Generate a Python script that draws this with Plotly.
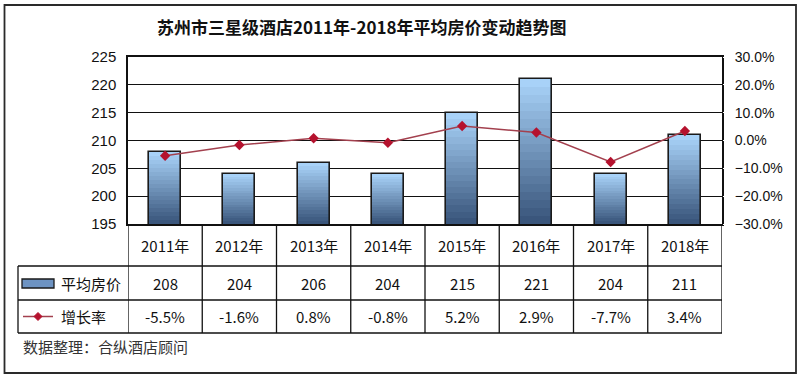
import plotly.graph_objects as go

# ---------------- data ----------------
years = ["2011年", "2012年", "2013年", "2014年", "2015年", "2016年", "2017年", "2018年"]
avg_price = [208, 204, 206, 204, 215, 221, 204, 211]
growth = [-0.055, -0.016, 0.008, -0.008, 0.052, 0.029, -0.077, 0.034]
price_name = "平均房价"
growth_name = "增长率"
title_text = "苏州市三星级酒店2011年-2018年平均房价变动趋势图"
source_text = "数据整理：合纵酒店顾问"
y_left_ticks = [195, 200, 205, 210, 215, 220, 225]
y_right_ticks = [-0.3, -0.2, -0.1, 0.0, 0.1, 0.2, 0.3]

# ---------------- geometry (pixels) ----------------
W_PX, H_PX = 800, 380
L, R, T, B = 128, 722, 57, 224
PW, PH = R - L, B - T


def px_x(px):
    return (px - L) / PW


def px_y(py):
    return (B - py) / PH


CJK = "Noto Sans CJK SC"
LAT = "Liberation Sans, Arial, sans-serif"

fig = go.Figure()

# gradient bars (overlay layers, light top -> dark bottom)
light = (168, 210, 248)
dark = (58, 86, 124)
N = 18
base = y_left_ticks[0]
for k in range(N):
    f = 1 - k / N
    t = k / (N - 1)
    c = tuple(int(light[i] + (dark[i] - light[i]) * t) for i in range(3))
    fig.add_trace(go.Bar(
        x=years, y=[base + f * (v - base) for v in avg_price],
        width=0.43, marker=dict(color="rgb(%d,%d,%d)" % c, line=dict(width=0)),
        showlegend=False, hoverinfo="skip", yaxis="y",
    ))

# data bar (outline)
fig.add_trace(go.Bar(
    x=years, y=avg_price, name=price_name, width=0.43,
    marker=dict(color="rgba(0,0,0,0)", line=dict(color="#1a1a1a", width=1.6)),
    showlegend=False, yaxis="y",
))

# growth line
fig.add_trace(go.Scatter(
    x=years, y=growth, name=growth_name, mode="lines+markers", yaxis="y2",
    line=dict(color="#a3404e", width=1.5),
    marker=dict(symbol="diamond", size=8, color="#b5122e"),
    showlegend=False,
))

shapes = []
annotations = []


def note(x, y, text, size, xref="paper", xanchor="center", color="#111"):
    annotations.append(dict(x=x, y=y, xref=xref, yref="paper", text=text, showarrow=False,
                            xanchor=xanchor, yanchor="middle",
                            font=dict(family=CJK, size=size, color=color)))


# outer frame
shapes.append(dict(type="rect", xref="paper", yref="paper",
                   x0=px_x(4.5), x1=px_x(796), y0=px_y(373), y1=px_y(5),
                   line=dict(color="#2a2a2a", width=1.8), fillcolor="rgba(0,0,0,0)", layer="below"))

# table lines
row1, row2, row3 = 266, 300, 333
tbl_left = 18
line_style = dict(color="#111111", width=1.3)
for py in (row1, row2, row3):
    shapes.append(dict(type="line", xref="paper", yref="paper",
                       x0=px_x(tbl_left), x1=px_x(R), y0=px_y(py), y1=px_y(py), line=line_style))
shapes.append(dict(type="line", xref="paper", yref="paper",
                   x0=px_x(tbl_left), x1=px_x(tbl_left), y0=px_y(row1), y1=px_y(row3), line=line_style))
for i in range(len(years) + 1):
    shapes.append(dict(type="line", xref="x", yref="paper",
                       x0=i - 0.5, x1=i - 0.5, y0=0, y1=px_y(row3), line=line_style))

# table text
for i, yr in enumerate(years):
    note(yr, px_y((B + row1) / 2), yr, 15, xref="x")
    note(yr, px_y((row1 + row2) / 2), str(avg_price[i]), 15, xref="x")
    note(yr, px_y((row2 + row3) / 2), f"{growth[i]:.1%}", 15, xref="x")

# legend keys in table
shapes.append(dict(type="rect", xref="paper", yref="paper",
                   x0=px_x(22), x1=px_x(54), y0=px_y(288), y1=px_y(279),
                   line=dict(color="#1a1a1a", width=1.3), fillcolor="#6d93c2"))
note(px_x(59), px_y((row1 + row2) / 2), price_name, 15, xanchor="left")
ly = px_y((row2 + row3) / 2)
shapes.append(dict(type="line", xref="paper", yref="paper",
                   x0=px_x(23), x1=px_x(53), y0=ly, y1=ly, line=dict(color="#a3404e", width=1.5)))
cx, cy, dd = 38, (row2 + row3) / 2, 4
shapes.append(dict(type="path", xref="paper", yref="paper",
                   path="M %f %f L %f %f L %f %f L %f %f Z" % (
                       px_x(cx - dd), px_y(cy), px_x(cx), px_y(cy - dd),
                       px_x(cx + dd), px_y(cy), px_x(cx), px_y(cy + dd)),
                   fillcolor="#b5122e", line=dict(color="#b5122e", width=1)))
note(px_x(59), ly, growth_name, 15, xanchor="left")

# source note
note(px_x(21), px_y(346), source_text, 15, xanchor="left", color="#333")

# title
note(px_x(362), px_y(27), "<b>" + title_text + "</b>", 17)

fig.update_layout(
    width=W_PX, height=H_PX,
    margin=dict(l=L, r=W_PX - R, t=T, b=H_PX - B, pad=0),
    paper_bgcolor="white", plot_bgcolor="white",
    barmode="overlay", bargap=0,
    showlegend=False,
    xaxis=dict(type="category", range=[-0.5, len(years) - 0.5], showticklabels=False,
               showgrid=False, zeroline=False, showline=True, linecolor="#111", linewidth=1.5,
               mirror=True, ticks=""),
    yaxis=dict(range=[y_left_ticks[0], y_left_ticks[-1]], tickvals=y_left_ticks,
               showgrid=True, gridcolor="#111", gridwidth=1.3, zeroline=False,
               showline=True, linecolor="#111", linewidth=1.5, mirror=True,
               ticks="outside", ticklen=7, tickcolor="white",
               tickfont=dict(family=LAT, size=15, color="#111")),
    yaxis2=dict(range=[y_right_ticks[0], y_right_ticks[-1]], tickvals=y_right_ticks,
                tickformat=".1%", overlaying="y", side="right", showgrid=False, zeroline=False,
                ticks="outside", ticklen=9, tickcolor="white",
                tickfont=dict(family=LAT, size=14, color="#111")),
    shapes=shapes, annotations=annotations,
)

fig.write_html("out.html", config={"displayModeBar": False},
               post_script="document.body.style.margin='0';document.body.style.overflow='hidden';")
